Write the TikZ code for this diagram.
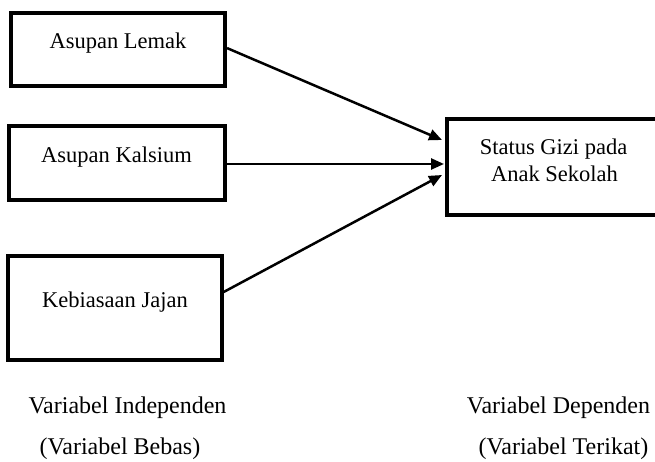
\documentclass[tikz,border=0pt]{standalone}
\usepackage{fontspec}
\setmainfont{Liberation Serif}
\usetikzlibrary{arrows.meta,calc}
\begin{document}
\begin{tikzpicture}[x=1pt,y=1pt,
  box/.style={draw=black,line width=4pt,inner sep=0pt,minimum width=#1},
  lbl/.style={anchor=base,inner sep=0pt,font=\fontsize{22.5}{27}\selectfont},
  bottomtxt/.style={anchor=base,inner sep=0pt,font=\fontsize{24}{29}\selectfont},
  arr/.style={line width=2.5pt,-{Triangle[length=13pt,width=11pt]}}]
\useasboundingbox (0,0) rectangle (655,462);
\begin{scope}
\clip (0,0) rectangle (655,462);
\node[box=214.3pt,minimum height=72.7pt] (b1) at (117.9,412.4) {};
\node[box=216pt,minimum height=74pt] (b2) at (117,299) {};
\node[box=213.4pt,minimum height=104pt] (b3) at (115,154) {};
\node[box=213pt,minimum height=96pt] (b4) at (553.5,295) {};
\end{scope}
\node[lbl] (t1) at (118,413) {Asupan Lemak};
\node[lbl] (t2) at (116.5,299.3) {Asupan Kalsium};
\node[lbl] (t3) at (115,154) {Kebiasaan Jajan};
\node[lbl] (t4a) at (553.5,307) {Status Gizi pada};
\node[lbl] (t4b) at (554.5,280.3) {Anak Sekolah};
\node[bottomtxt] (c1) at (127.5,48.7) {Variabel Independen};
\node[bottomtxt] (c2) at (120,7) {(Variabel Bebas)};
\node[bottomtxt] (c3) at (558.5,48.7) {Variabel Dependen};
\node[bottomtxt] (c4) at (563.5,7) {(Variabel Terikat)};
\draw[arr] ($(b1.east)+(0,1.5)$) -- ($(b4.west)+(-3,27)$);
\draw[arr] ($(b2.east)+(0,-1)$) -- ($(b4.west)+(-1,3)$);
\draw[arr] ($(b3.east)+(0,16)$) -- ($(b4.west)+(-3,-8)$);
\end{tikzpicture}
\end{document}
